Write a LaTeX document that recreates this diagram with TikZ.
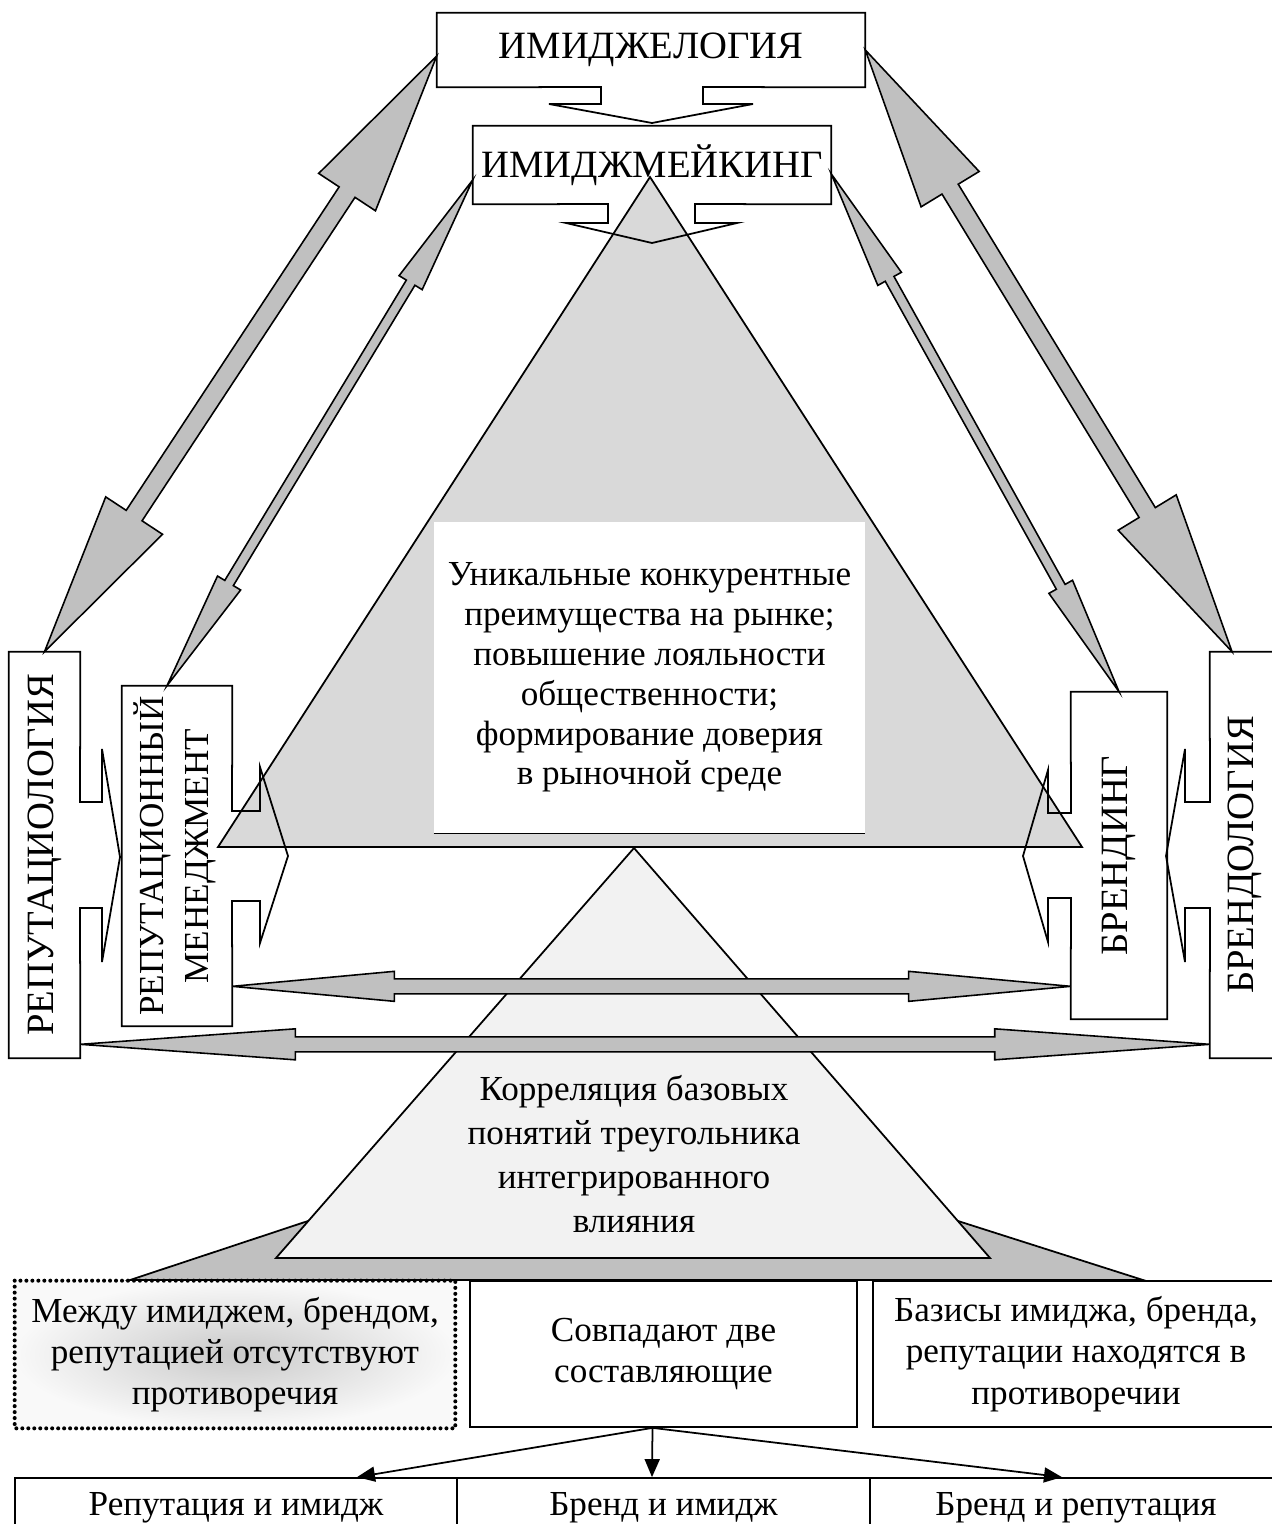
\documentclass[tikz,border=0pt]{standalone}
\usepackage{fontspec}
\setmainfont{Liberation Serif}
\usepackage{graphicx}
\usetikzlibrary{calc,arrows.meta}

\definecolor{trigray}{HTML}{D9D9D9}
\definecolor{arrowgray}{HTML}{C0C0C0}
\definecolor{palegray}{HTML}{F2F2F2}

\tikzset{
  headfont/.style={font=\fontsize{22}{26}\selectfont},
  bodyfont/.style={font=\fontsize{20}{23.5}\selectfont},
  whitebox/.style={fill=white, inner sep=0pt},
  outline/.style={line width=1pt, line join=miter},
  bigarrow/.style={fill=arrowgray, draw=black, line width=0.9pt, line join=miter},
  textbox/.style={draw, line width=1pt, fill=white, align=center, inner sep=0pt, bodyfont},
  tiparrow/.style={line width=1pt, -{Triangle[length=0.36cm,width=0.3cm]}}
}

% double block arrow: start, end, head length, head half width, shaft half width
\newcommand{\dblarrow}[5]{
  \coordinate (da) at (#1);
  \coordinate (db) at (#2);
  \coordinate (pa) at ($(da)!#3!(db)$);
  \coordinate (pb) at ($(db)!#3!(da)$);
  \filldraw[bigarrow] (da) -- ($(pa)!#4!90:(db)$) -- ($(pa)!#5!90:(db)$)
    -- ($(pb)!#5!-90:(da)$) -- ($(pb)!#4!-90:(da)$) -- (db)
    -- ($(pb)!#4!90:(da)$) -- ($(pb)!#5!90:(da)$)
    -- ($(pa)!#5!-90:(db)$) -- ($(pa)!#4!-90:(db)$) -- cycle;
}

\begin{document}
\begin{tikzpicture}[x=0.02cm, y=-0.02cm]

    \useasboundingbox (0,0) rectangle (1271,1524);

    % Draw the boxes round the upper triangle
    \node[whitebox, headfont, minimum width=8.56cm, minimum height=1.48cm] (imlog) at (651,50) {ИМИДЖЕЛОГИЯ};
    \node[whitebox, headfont, minimum width=7.16cm, minimum height=1.56cm] (immake) at (652,165) {ИМИДЖМЕЙКИНГ};
    \node[whitebox, headfont, minimum width=1.42cm, minimum height=8.12cm] (replog) at (44.5,855) {\rotatebox{90}{РЕПУТАЦИОЛОГИЯ}};
    \node[whitebox, font=\fontsize{20}{26}\selectfont, minimum width=2.2cm, minimum height=6.8cm] (repman) at (177,856)
        {\rotatebox{90}{\begin{tabular}{@{}c@{}}РЕПУТАЦИОННЫЙ\\МЕНЕДЖМЕНТ\end{tabular}}};
    \node[whitebox, headfont, minimum width=1.92cm, minimum height=6.54cm] (brand) at (1119,855.5) {\rotatebox{90}{БРЕНДИНГ}};
    \node[whitebox, headfont, minimum width=1.4cm, minimum height=8.12cm] (brandlog) at (1245,855) {\rotatebox{90}{БРЕНДОЛОГИЯ}};

    % Draw the big triangle
    \filldraw[fill=trigray, line width=1pt] (650,177) -- (218,847) -- (1082,847) -- cycle;

    % Draw the statement inside it
    \node[fill=white, inner sep=0pt, minimum width=8.62cm, minimum height=6.22cm, align=center,
          font=\fontsize{20}{22.7}\selectfont] (goal) at (649.5,677.5)
        {Уникальные конкурентные\\преимущества на рынке;\\повышение лояльности\\общественности;\\формирование доверия\\в рыночной среде};
    \draw[line width=0.6pt] (goal.south west) -- (goal.south east);

    % Draw the outlines with their callout arrows
    \draw[outline] (imlog.north west) -- (imlog.north east) -- (imlog.south east) -- (703,87) -- (703,104)
        -- (753,104) -- (652,123) -- (549,104) -- (601,104) -- (601,87) -- (imlog.south west) -- cycle;
    \draw[outline] (immake.north west) -- (immake.north east) -- (immake.south east) -- (695,204) -- (695,223)
        -- (737,223) -- (652,243) -- (566,223) -- (608,223) -- (608,204) -- (immake.south west) -- cycle;
    \draw[outline] (replog.north west) -- (replog.north east) -- (80,802) -- (102,802) -- (102,749)
        -- (120,857) -- (102,962) -- (102,908) -- (80,908) -- (replog.south east) -- (replog.south west) -- cycle;
    \draw[outline] (repman.north west) -- (repman.north east) -- (232,811) -- (260,811) -- (260,767)
        -- (288,856) -- (260,943) -- (260,901) -- (232,901) -- (repman.south east) -- (repman.south west) -- cycle;
    \draw[outline] (brand.north east) -- (brand.north west) -- (1071,813) -- (1048,813) -- (1048,770)
        -- (1023,856) -- (1048,942) -- (1048,898) -- (1071,898) -- (brand.south west) -- (brand.south east) -- cycle;
    \draw[outline] (brandlog.north east) -- (brandlog.north west) -- (1210,802) -- (1185,802) -- (1185,749)
        -- (1166,856) -- (1185,962) -- (1185,908) -- (1210,908) -- (brandlog.south west) -- (brandlog.south east) -- cycle;

    % Draw the lower triangle on its base
    \filldraw[fill=arrowgray, line width=1pt] (130,1280) -- (308,1221) -- (958,1221) -- (1143,1280) -- cycle;
    \filldraw[fill=palegray, line width=1pt] (634,848) -- (276,1258) -- (990,1258) -- cycle;
    \node[align=center, font=\fontsize{20}{25}\selectfont] (corr) at (634,1154)
        {Корреляция базовых\\понятий треугольника\\интегрированного\\влияния};

    % Draw the double arrows
    \dblarrow{replog.north}{[yshift=-0.12cm]imlog.west}{3.26cm}{0.68cm}{0.19cm}
    \dblarrow{[xshift=-0.2cm]repman.north}{[yshift=-0.3cm]immake.west}{2.4cm}{0.27cm}{0.1cm}
    \dblarrow{brand.north}{[yshift=-0.18cm]immake.east}{2.4cm}{0.27cm}{0.1cm}
    \dblarrow{[xshift=-0.26cm]brandlog.north}{imlog.east}{3.26cm}{0.68cm}{0.19cm}
    \dblarrow{[yshift=0.8cm]repman.south east}{[yshift=0.66cm]brand.south west}{3.24cm}{0.3cm}{0.15cm}
    \dblarrow{[yshift=0.28cm]replog.south east}{[yshift=0.28cm]brandlog.south west}{4.3cm}{0.31cm}{0.15cm}

    % Draw the three cases
    \node[align=center, bodyfont, inner sep=0pt, shade, inner color=gray!42, outer color=gray!5,
          minimum width=8.8cm, minimum height=2.94cm] (nocontr) at (235,1354.5)
        {Между имиджем, брендом,\\репутацией отсутствуют\\противоречия};
    \draw[line width=2.3pt, line cap=round, dash pattern=on 0pt off 3.4pt] (nocontr.north west) rectangle (nocontr.south east);
    \node[textbox, minimum width=7.74cm, minimum height=2.92cm] (twomatch) at (663.5,1354) {Совпадают две\\составляющие};
    \node[textbox, minimum width=8.12cm, minimum height=2.92cm] (contr) at (1076,1354)
        {Базисы имиджа, бренда,\\репутации находятся в\\противоречии};

    % Draw the pairs
    \node[textbox, minimum width=8.84cm, minimum height=1.2cm] (repim) at (236,1508) {Репутация и имидж};
    \node[textbox, minimum width=8.26cm, minimum height=1.2cm] (brim) at (663.5,1508) {Бренд и имидж};
    \node[textbox, minimum width=8.24cm, minimum height=1.2cm] (brrep) at (1076,1508) {Бренд и репутация};

    \coordinate (fork) at ([xshift=-0.22cm]twomatch.south);
    \draw[tiparrow] (fork) -- ([xshift=2.42cm]repim.north);
    \draw[tiparrow] (fork) -- ([xshift=-0.23cm]brim.north);
    \draw[tiparrow] (fork) -- ([xshift=-0.28cm]brrep.north);

\end{tikzpicture}
\end{document}
